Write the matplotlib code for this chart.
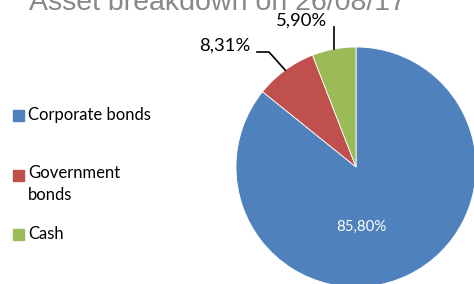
import numpy as np
import matplotlib
matplotlib.use('Agg')
import matplotlib.pyplot as plt
from matplotlib.patches import Rectangle

# data
categories = ['Corporate bonds', 'Government bonds', 'Cash']
legend_labels = ['Corporate bonds', 'Government\nbonds', 'Cash']
shares = [85.80, 8.31, 5.90]
colors = ['#4F81BD', '#C0504D', '#9BBB59']
title = 'Asset breakdown on 26/08/17'

W, H = 474, 284
fig = plt.figure(figsize=(W / 100, H / 100), dpi=100)
ax = fig.add_axes([0, 0, 1, 1])

cx, cy, r = 356, 117, 120
ax.pie(shares, colors=colors, startangle=90, counterclock=False,
       center=(cx, cy), radius=r, frame=True,
       wedgeprops=dict(linewidth=0.6, edgecolor='white'))
ax.set_xlim(0, W)
ax.set_ylim(0, H)
ax.set_aspect('equal')
ax.axis('off')

font = 'Lato'
fs = 12
fmt = lambda v: f'{v:.2f}%'.replace('.', ',')

# mid angles of wedges (degrees, counterclockwise from x axis)
cum = np.cumsum([0] + shares)
mids = [90 - (cum[i] + shares[i] / 2) * 3.6 for i in range(len(shares))]
edge = [(cx + r * np.cos(np.radians(a)), cy + r * np.sin(np.radians(a))) for a in mids]

# big slice label inside
ax.text(361, 57, fmt(shares[0]), color='white', fontsize=10.8, family=font,
        ha='center', va='center')

# cash label with leader
ex, ey = edge[2]
ax.plot([334, ex], [257, ey], color='black', lw=1.2)
ax.text(302, 263, fmt(shares[2]), fontsize=13.3, family=font, ha='center', va='center')

# government label with leader
ex, ey = edge[1]
ax.plot([257, 269, ex], [232, 232, ey], color='black', lw=1.2)
ax.text(225, 238, fmt(shares[1]), fontsize=13.3, family=font, ha='center', va='center')

# legend
leg_y = [169, 109, 50]
for lab, c, y in zip(legend_labels, colors, leg_y):
    ax.add_patch(Rectangle((13, y - 5.5), 11, 11, color=c))
    if '\n' in lab:
        ax.text(28, y + 10, lab, fontsize=fs, family=font, ha='left', va='top',
                linespacing=1.5)
    else:
        ax.text(28, y, lab, fontsize=fs, family=font, ha='left', va='center')

fig.text(217 / W, 274 / H, title, fontsize=20.5, family='Liberation Sans',
         color='#888888', ha='center', va='baseline')

fig.savefig('out.png', dpi=100)
